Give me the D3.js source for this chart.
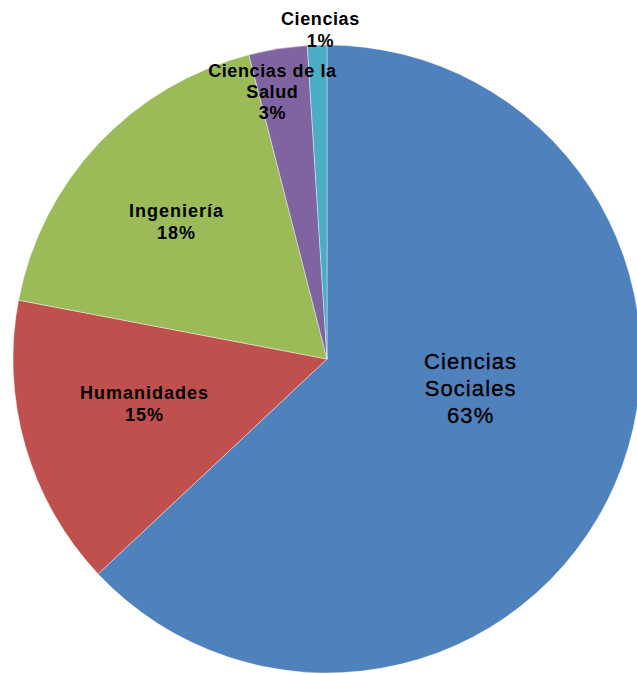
<!DOCTYPE html>
<html>
<head>
<meta charset="utf-8">
<script src="https://d3js.org/d3.v7.min.js"></script>
<style>
  body { margin: 0; background: #fff; }
  svg { display: block; }
  text { font-family: "Liberation Sans", Arial, sans-serif; fill: #000; }
</style>
</head>
<body>
<div id="chart"></div>
<script>
// Data
const categories = ["Ciencias\nSociales", "Humanidades", "Ingeniería", "Ciencias de la\nSalud", "Ciencias"];
const values = [63, 15, 18, 3, 1];
const colors = ["#4F81BD", "#C0504D", "#9BBB59", "#8064A2", "#4BACC6"];

const width = 637, height = 674;
const cx = 327, cy = 359, radius = 314;

// label placement: fraction of radius and angle nudge (degrees) from slice middle
const labelLayout = [
  { r: 0.465, nudge: -11.9, size: 22, weight: "normal", spacing: 1.1, lh: 27, stroke: 0.35 },
  { r: 0.60, nudge: 2.4, size: 18, weight: "bold", spacing: 1, lh: 22, stroke: 0 },
  { r: 0.65, nudge: -0.9, size: 18, weight: "bold", spacing: 1, lh: 21.5, stroke: 0 },
  { r: 0.87, nudge: -2.6, size: 18, weight: "bold", spacing: 0.6, lh: 21, stroke: 0 },
  { r: 1.05, nudge: 0.6, size: 18, weight: "bold", spacing: 0.6, lh: 21.5, stroke: 0 }
];

const data = categories.map((c, i) => ({ name: c, value: values[i], color: colors[i], i }));
const total = d3.sum(values);

const svg = d3.select("#chart").append("svg")
  .attr("width", width)
  .attr("height", height);

const g = svg.append("g").attr("transform", `translate(${cx},${cy})`);

const pie = d3.pie().value(d => d.value).sort(null);
const arcs = pie(data);
const arc = d3.arc().innerRadius(0).outerRadius(radius);

g.selectAll("path.slice")
  .data(arcs)
  .join("path")
  .attr("class", "slice")
  .attr("d", arc)
  .attr("fill", d => d.data.color)
  .attr("stroke", "rgba(255,255,255,0.4)")
  .attr("stroke-width", 1);

// Labels
const labels = g.selectAll("text.label")
  .data(arcs)
  .join("text")
  .attr("class", "label")
  .attr("text-anchor", "middle")
  .style("font-size", d => labelLayout[d.data.i].size + "px")
  .style("font-weight", d => labelLayout[d.data.i].weight)
  .style("letter-spacing", d => labelLayout[d.data.i].spacing + "px")
  .style("stroke", "#000")
  .style("stroke-width", d => labelLayout[d.data.i].stroke + "px")
  .attr("transform", d => {
    const L = labelLayout[d.data.i];
    const a = (d.startAngle + d.endAngle) / 2 + L.nudge * Math.PI / 180;
    const rr = radius * L.r;
    return `translate(${rr * Math.sin(a)},${-rr * Math.cos(a)})`;
  });

labels.each(function(d) {
  const L = labelLayout[d.data.i];
  const lines = d.data.name.split("\n").concat([Math.round(d.data.value / total * 100) + "%"]);
  const n = lines.length;
  d3.select(this).selectAll("tspan")
    .data(lines)
    .join("tspan")
    .attr("x", L.spacing / 2)
    .attr("y", (t, k) => (k - (n - 1) / 2) * L.lh)
    .attr("dy", "0.36em")
    .text(t => t);
});
</script>
</body>
</html>
